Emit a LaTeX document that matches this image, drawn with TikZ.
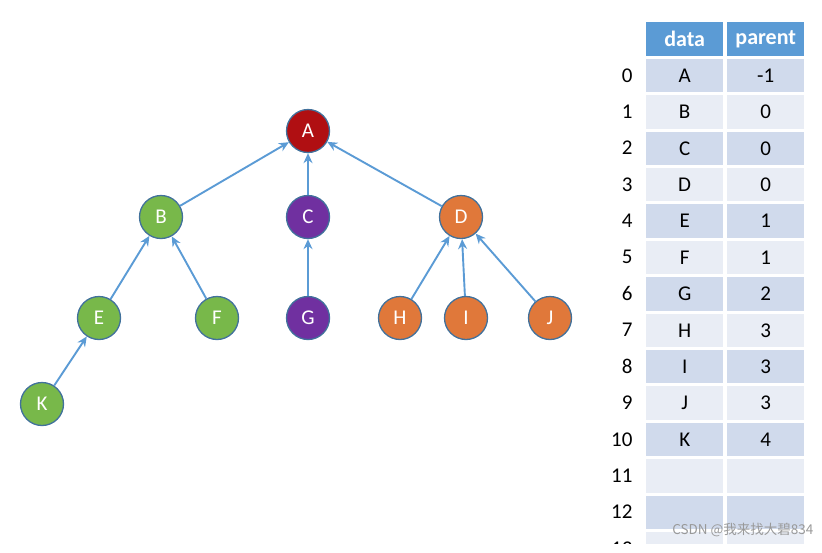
\documentclass[tikz,border=0pt]{standalone}
\usepackage{fontspec}
\setmainfont{Carlito}
\newfontfamily\cjkfont{Noto Sans CJK SC}
\usetikzlibrary{arrows.meta}
\definecolor{nred}{HTML}{B00F12}
\definecolor{ngreen}{HTML}{78B84A}
\definecolor{npurple}{HTML}{7030A0}
\definecolor{norange}{HTML}{E0783A}
\definecolor{nline}{HTML}{41719C}
\definecolor{edgeblue}{HTML}{5B9BD5}
\definecolor{headblue}{HTML}{5B9BD5}
\definecolor{rowdark}{HTML}{D0DAEC}
\definecolor{rowlight}{HTML}{E9EDF5}
\tikzset{
  tnode/.style={circle, draw=nline, line width=1.3pt, minimum size=43pt, inner sep=0pt, text=white, font=\fontsize{21}{21}\selectfont},
  tedge/.style={draw=edgeblue, line width=1.9pt, -{Stealth[length=10pt,width=9pt]}},
  cell/.style={anchor=north west, minimum width=77pt, minimum height=33.4pt, inner sep=0pt, font=\fontsize{21}{21}\selectfont},
  idx/.style={anchor=east, font=\fontsize{21}{21}\selectfont}
}
\begin{document}
\begin{tikzpicture}[x=1pt,y=-1pt]
\useasboundingbox (0,0) rectangle (822,552);
% tree nodes
\node[tnode, fill=nred] (A) at (308,131) {A};
\node[tnode, fill=ngreen] (B) at (161,217) {B};
\node[tnode, fill=npurple] (C) at (308,217) {C};
\node[tnode, fill=norange] (D) at (461,217) {D};
\node[tnode, fill=ngreen] (E) at (99,318) {E};
\node[tnode, fill=ngreen] (F) at (217,318) {F};
\node[tnode, fill=npurple] (G) at (308,318) {G};
\node[tnode, fill=norange] (H) at (400,318) {H};
\node[tnode, fill=norange] (I) at (466,318) {I};
\node[tnode, fill=norange] (J) at (550,318) {J};
\node[tnode, fill=ngreen] (K) at (42,404) {K};
% edges
\draw[tedge] (B) -- (A);
\draw[tedge] (C) -- (A);
\draw[tedge] (D) -- (A);
\draw[tedge] (E) -- (B);
\draw[tedge] (F) -- (B);
\draw[tedge] (G) -- (C);
\draw[tedge] (H) -- (D);
\draw[tedge] (I) -- (D);
\draw[tedge] (J) -- (D);
\draw[tedge] (K) -- (E);
% table header
\node[cell, fill=headblue, text=white, font=\fontsize{22}{22}\selectfont\bfseries] (hd) at (646,22) {data};
\node[cell, fill=headblue, text=white, font=\fontsize{22}{22}\selectfont\bfseries] (hp) at (727,22) {parent};
\begin{scope}
\clip (600,0) rectangle (822,543);
\foreach \i/\d/\p in {0/A/-1,1/B/0,2/C/0,3/D/0,4/E/1,5/F/1,6/G/2,7/H/3,8/I/3,9/J/3,10/K/4,11//,12//,13//} {
  \pgfmathsetmacro{\y}{58.6+36.4*\i}
  \pgfmathtruncatemacro{\odd}{mod(\i,2)}
  \ifnum\odd=0 \def\rc{rowdark}\else\def\rc{rowlight}\fi
  \node[cell, fill=\rc] (d\i) at (646,\y) {\d};
  \node[cell, fill=\rc] (p\i) at (727,\y) {\p};
  \node[idx] (n\i) at (636,\y+16.7) {\i};
}
\end{scope}
% watermark
\node[anchor=east, text=gray!80, font=\cjkfont\fontsize{13.5}{14}\selectfont] (wm) at (817,530) {CSDN @我来找大碧834};
\end{tikzpicture}
\end{document}
